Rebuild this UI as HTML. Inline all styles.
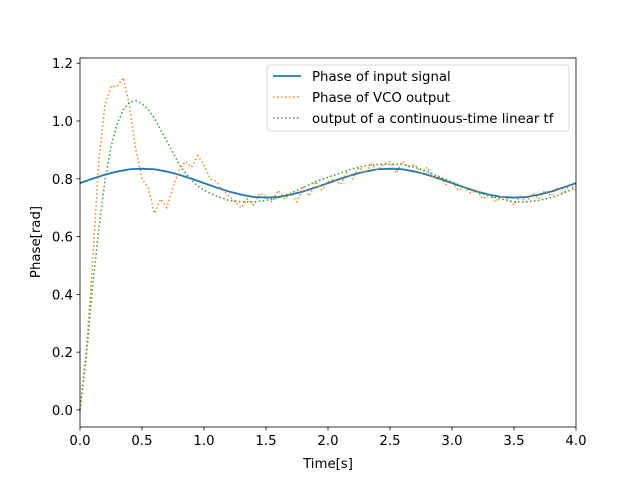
<!DOCTYPE html>
<html><head><meta charset="utf-8"><style>
body{margin:0;background:#fff}
text{font-family:"DejaVu Sans","Liberation Sans",sans-serif;font-size:13.3px;fill:#000}
</style></head><body>
<svg id="chart" width="640" height="480" viewBox="0 0 640 480" xmlns="http://www.w3.org/2000/svg">
<rect width="640" height="480" fill="#fff"/>
<g id="plot"></g>
</svg>
<script>
const xTicks=[0,0.5,1,1.5,2,2.5,3,3.5,4];
const xTickLabels=["0.0","0.5","1.0","1.5","2.0","2.5","3.0","3.5","4.0"];
const yTicks=[0,0.2,0.4,0.6,0.8,1.0,1.2];
const yTickLabels=["0.0","0.2","0.4","0.6","0.8","1.0","1.2"];
const inputT=[0,0.1,0.2,0.3,0.4,0.5,0.6,0.7,0.8,0.9,1.0,1.1,1.2,1.3,1.4,1.5,1.6,1.7,1.8,1.9,2.0,2.1,2.2,2.3,2.4,2.5,2.6,2.7,2.8,2.9,3.0,3.1,3.2,3.3,3.4,3.5,3.6,3.7,3.8,3.9,4.0];
const inputV=[0.785,0.800,0.814,0.825,0.833,0.835,0.833,0.825,0.814,0.800,0.785,0.770,0.756,0.745,0.737,0.735,0.737,0.745,0.756,0.770,0.785,0.800,0.814,0.825,0.833,0.835,0.833,0.825,0.814,0.800,0.785,0.770,0.756,0.745,0.737,0.735,0.737,0.745,0.756,0.770,0.785];
const vcoT=[0,0.05,0.1,0.15,0.2,0.25,0.3,0.35,0.4,0.45,0.5,0.55,0.6,0.65,0.7,0.75,0.8,0.85,0.9,0.95,1.0,1.05,1.1,1.15,1.2,1.25,1.3,1.35,1.4,1.45,1.5,1.55,1.6,1.65,1.7,1.75,1.8,1.85,1.9,1.95,2.0,2.05,2.1,2.15,2.2,2.25,2.3,2.35,2.4,2.45,2.5,2.55,2.6,2.65,2.7,2.75,2.8,2.85,2.9,2.95,3.0,3.05,3.1,3.15,3.2,3.25,3.3,3.35,3.4,3.45,3.5,3.55,3.6,3.65,3.7,3.75,3.8,3.85,3.9,3.95,4.0];
const vcoV=[0,0.2,0.5,0.85,1.05,1.12,1.12,1.15,1.05,0.9,0.8,0.77,0.68,0.73,0.70,0.77,0.83,0.86,0.84,0.88,0.85,0.80,0.79,0.76,0.74,0.72,0.70,0.73,0.71,0.75,0.74,0.72,0.76,0.73,0.75,0.72,0.77,0.74,0.79,0.76,0.79,0.80,0.78,0.82,0.80,0.84,0.82,0.85,0.83,0.85,0.86,0.82,0.86,0.84,0.85,0.82,0.84,0.80,0.81,0.78,0.79,0.76,0.77,0.75,0.76,0.73,0.75,0.72,0.74,0.73,0.71,0.74,0.72,0.75,0.73,0.76,0.74,0.77,0.75,0.78,0.76];
const tfT=[0,0.05,0.1,0.15,0.2,0.25,0.3,0.35,0.4,0.45,0.5,0.55,0.6,0.65,0.7,0.75,0.8,0.85,0.9,0.95,1.0,1.1,1.2,1.3,1.4,1.5,1.6,1.7,1.8,1.9,2.0,2.1,2.2,2.3,2.4,2.5,2.6,2.7,2.8,2.9,3.0,3.1,3.2,3.3,3.4,3.5,3.6,3.7,3.8,3.9,4.0];
const tfV=[0,0.18,0.42,0.62,0.79,0.91,0.99,1.04,1.065,1.07,1.06,1.04,1.01,0.97,0.93,0.89,0.85,0.82,0.795,0.775,0.76,0.74,0.725,0.72,0.72,0.725,0.735,0.75,0.77,0.79,0.805,0.82,0.835,0.845,0.85,0.85,0.85,0.84,0.825,0.805,0.79,0.77,0.755,0.74,0.73,0.72,0.72,0.725,0.735,0.75,0.77];
const X0=80,X1=576,Y0=58,Y1=427,xmin=0,xmax=4,ymin=-0.059,ymax=1.218;
const sx=v=>X0+(v-xmin)/(xmax-xmin)*(X1-X0);
const sy=v=>Y1-(v-ymin)/(ymax-ymin)*(Y1-Y0);
const NS="http://www.w3.org/2000/svg";
const g=document.getElementById('plot');
function mk(tag,attrs,parent){const e=document.createElementNS(NS,tag);for(const k in attrs)e.setAttribute(k,attrs[k]);(parent||g).appendChild(e);return e;}
function line(ts,vs,color,dash,name){
  const p=mk('polyline',{points:ts.map((t,i)=>sx(t)+','+sy(vs[i])).join(' '),fill:'none',stroke:color,'stroke-width':dash?1.5:1.8});
  if(dash)p.setAttribute('stroke-dasharray',dash);
  
  
}
const clip=mk('clipPath',{id:'c'});mk('rect',{x:X0,y:Y0,width:X1-X0,height:Y1-Y0},clip);
line(inputT,inputV,'#1f77b4',null,'series-input-signal');
line(vcoT,vcoV,'#ff7f0e','1.5,2.5','series-vco-output');
line(tfT,tfV,'#2ca02c','1.5,2.5','series-linear-tf');
const frame=mk('rect',{x:X0,y:Y0,width:X1-X0,height:Y1-Y0,fill:'none',stroke:'#000','stroke-width':0.8});


xTicks.forEach((v,i)=>{
  const x=sx(v);
  const t=mk('line',{x1:x,x2:x,y1:Y1,y2:Y1+3.5,stroke:'#000','stroke-width':0.8});
  
  
  const l=mk('text',{x:x,y:Y1+18,'text-anchor':'middle'});l.textContent=xTickLabels[i];
  
  
});
yTicks.forEach((v,i)=>{
  const y=sy(v);
  const t=mk('line',{x1:X0-3.5,x2:X0,y1:y,y2:y,stroke:'#000','stroke-width':0.8});
  
  
  const l=mk('text',{x:X0-7,y:y+5,'text-anchor':'end'});l.textContent=yTickLabels[i];
  
  
});
</script>
<svg width="640" height="480" style="position:absolute;left:0;top:0" xmlns="http://www.w3.org/2000/svg">
<text x="328" y="468" text-anchor="middle">Time[s]</text>
<text transform="translate(40,242) rotate(-90)" text-anchor="middle">Phase[rad]</text>
<g>
<rect x="267" y="65" width="302" height="66" rx="3" fill="#fff" fill-opacity="0.8" stroke="#ccc" stroke-width="0.8"/>
<line x1="273" x2="301" y1="76" y2="76" stroke="#1f77b4" stroke-width="1.8"/>
<text x="312" y="81">Phase of input signal</text>
<line x1="273" x2="301" y1="97" y2="97" stroke="#ff7f0e" stroke-width="1.5" stroke-dasharray="1.5,2.5"/>
<text x="312" y="102">Phase of VCO output</text>
<line x1="273" x2="301" y1="118" y2="118" stroke="#2ca02c" stroke-width="1.5" stroke-dasharray="1.5,2.5"/>
<text x="312" y="123">output of a continuous-time linear tf</text>
</g>
</svg>
</body></html>
